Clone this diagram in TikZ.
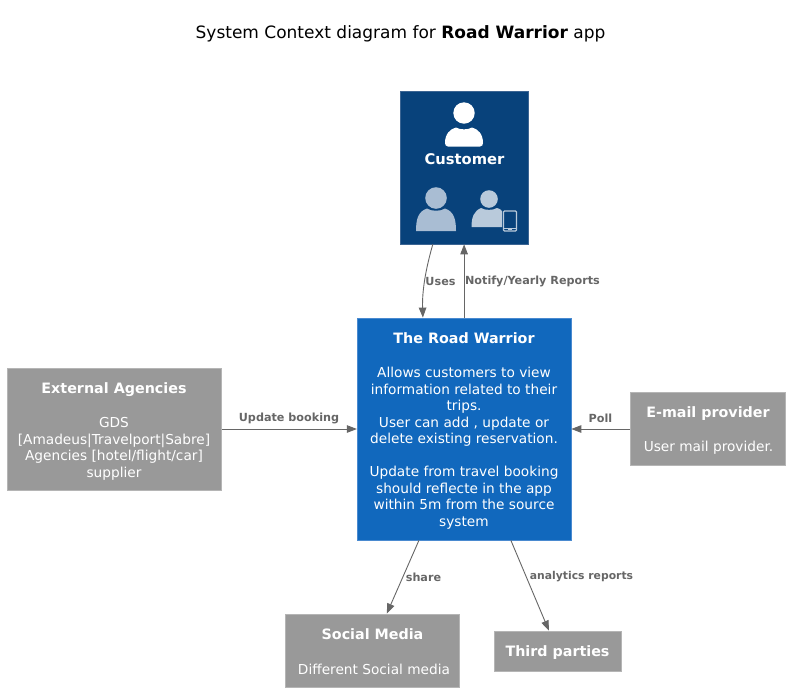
\documentclass[tikz,border=0pt]{standalone}
\usepackage{fontspec}
\setmainfont{DejaVu Sans}
\usetikzlibrary{arrows.meta,calc}
\definecolor{custblue}{HTML}{08427B}
\definecolor{sysblue}{HTML}{1168BD}
\definecolor{extgrey}{HTML}{999999}
\definecolor{custedge}{HTML}{3C6593}
\definecolor{sysedge}{HTML}{4A8AD0}
\definecolor{extedge}{HTML}{B5B5B5}
\definecolor{linkgrey}{HTML}{666666}
\definecolor{icona}{HTML}{A9BDD3}
\definecolor{iconb}{HTML}{B9CADB}
\newcommand{\ttl}[1]{{\fontsize{14.3}{16.5}\selectfont\bfseries #1}}
\tikzset{
  box/.style={rectangle,inner sep=0pt,text=white,align=center,font=\fontsize{13.7}{16.5}\selectfont,line width=0.8pt},
  custbox/.style={box,fill=custblue,draw=custedge},
  sysbox/.style={box,fill=sysblue,draw=sysedge},
  extbox/.style={box,fill=extgrey,draw=extedge},
  link/.style={draw=linkgrey,line width=0.9pt,-{Triangle[length=10pt,width=7.5pt,fill=linkgrey]}},
  linklabel/.style={text=linkgrey,font=\fontsize{11.2}{13}\selectfont\bfseries,inner sep=0pt}
}
\begin{document}
\begin{tikzpicture}[x=1pt,y=-1pt]
\useasboundingbox (0,0) rectangle (789,691);
\node[font=\fontsize{17}{20}\selectfont,inner sep=0pt] (title) at (400.5,34) {System Context diagram for \textbf{Road Warrior} app};
% boxes
\node[custbox,minimum width=128.6pt,minimum height=153pt] (cust) at (464.5,167.4) {};
\node[sysbox,minimum width=213.6pt,minimum height=222pt] (rw) at (464.1,429) {};
\node[extbox,minimum width=214.6pt,minimum height=122pt] (ext) at (114.5,429) {};
\node[extbox,minimum width=154.6pt,minimum height=73pt] (mail) at (707.6,428.5) {};
\node[extbox,minimum width=174.6pt,minimum height=73pt] (soc) at (372.5,650.5) {};
\node[extbox,minimum width=126.6pt,minimum height=40pt] (third) at (557.6,651) {};
% texts
\node[text=white,font=\fontsize{14.7}{16}\selectfont\bfseries,inner sep=0pt] (custt) at (464.5,159.5) {Customer};
\node[box,anchor=north] (rwt) at (464,332) {\ttl{The Road Warrior}\\[18pt]Allows customers to view\\information related to their\\trips.\\User can add , update or\\delete existing reservation.\\\strut\\Update from travel booking\\should reflecte in the app\\within 5m from the source\\system};
\node[box,anchor=north] (extt) at (114,382) {\ttl{External Agencies}\\[18pt]GDS\\{[Amadeus|Travelport|Sabre]}\\Agencies [hotel/flight/car]\\supplier};
\node[box] (mailt) at (708,414) {\ttl{E-mail provider}};
\node[box] (maild) at (708.5,447.5) {User mail provider.};
\node[box] (soct) at (372.5,634) {\ttl{Social Media}};
\node[box] (socd) at (374,669) {Different Social media};
\node[box] (thirdt) at (557.5,653) {\ttl{Third parties}};
% icons
\fill[white] (464,113) circle (10.7);
\fill[white] (448,146.5) -- (480,146.5) .. controls (482,146.5) and (483,145) .. (483,143) .. controls (483,134) and (478,129) .. (472,127.5) .. controls (468,130) and (460,130) .. (456,127.5) .. controls (450,129) and (445,134) .. (445,143) .. controls (445,145) and (446,146.5) .. (448,146.5) -- cycle;
\begin{scope}[shift={(436,209.5)}]
  \fill[icona] (0,-11.5) circle (10.8);
  \fill[icona] (-20,21.5) .. controls (-20,10) and (-18,2) .. (-9,-1) .. controls (-5,2) and (5,2) .. (9,-1) .. controls (18,2) and (20,10) .. (20,21.5) -- cycle;
\end{scope}
\begin{scope}[shift={(489,208)}]
  \fill[iconb] (0,-9) circle (8.8);
  \fill[iconb] (-17.5,19) .. controls (-17.5,9) and (-15,3) .. (-8,0) .. controls (-4,2.5) and (4,2.5) .. (8,0) .. controls (10,0.5) and (12,1.5) .. (13,3) -- (13,19) -- cycle;
\end{scope}
\draw[iconb,line width=1.2pt,rounded corners=1pt] (503.5,211) rectangle (516.5,231);
\draw[iconb,line width=1pt] (503.5,228) -- (516.5,228);
\draw[iconb,line width=1pt] (508,229.4) -- (512,229.4);
% connector ends
\coordinate (usesA) at ($(cust.south west)+(33,0)$);
\coordinate (usesB) at ($(rw.north west)+(66,0)$);
\coordinate (notA) at (rw.north);
\coordinate (notB) at (cust.south -| rw.north);
\coordinate (upA) at (ext.east |- rw.center);
\coordinate (pollA) at (mail.west |- rw.center);
\coordinate (shareA) at ($(rw.south west)+(62,0)$);
\coordinate (shareB) at ($(soc.north west)+(102,0)$);
\coordinate (anaA) at ($(rw.south west)+(154,0)$);
\coordinate (anaB) at ($(third.north west)+(55,0)$);
% connectors
\draw[link] (usesA) .. controls (426,268) and (422,290) .. (usesB);
\draw[link] (notA) -- (notB);
\draw[link] (upA) -- (upA -| rw.west);
\draw[link] (pollA) -- (pollA -| rw.east);
\draw[link] (shareA) -- (shareB);
\draw[link] (anaA) -- (anaB);
% labels
\node[linklabel] (l1) at (440.5,281) {Uses};
\node[linklabel] (l2) at (532.5,281) {Notify/Yearly Reports};
\node[linklabel] (l3) at (289,418) {Update booking};
\node[linklabel] (l4) at (600.5,418) {Poll};
\node[linklabel] (l5) at (423.5,577) {share};
\node[linklabel,font=\fontsize{10.8}{13}\selectfont\bfseries] (l6) at (581.5,577) {analytics reports};
\end{tikzpicture}
\end{document}
